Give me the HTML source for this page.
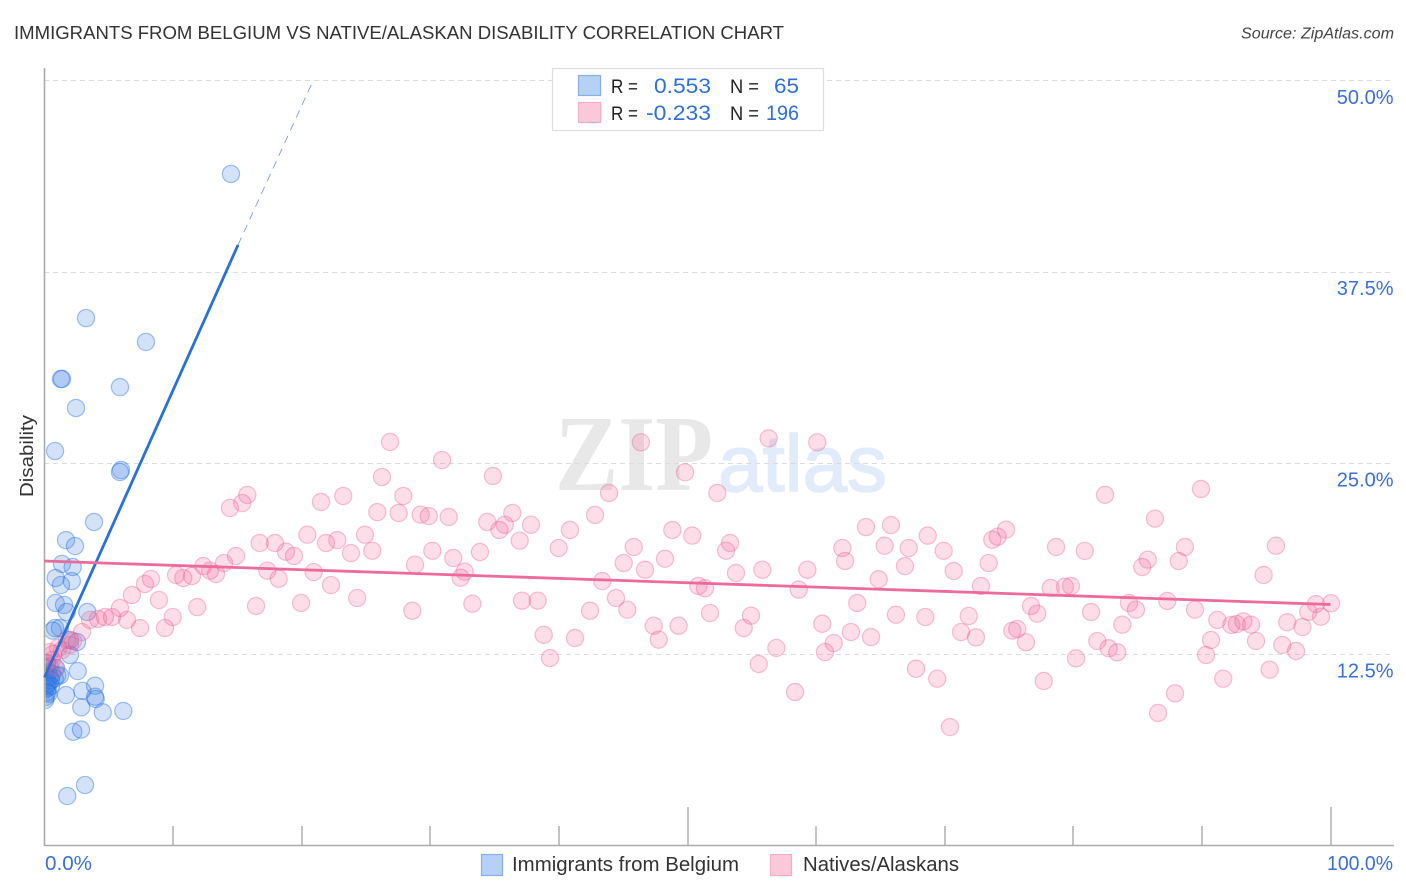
<!DOCTYPE html>
<html>
<head>
<meta charset="utf-8">
<title>Immigrants from Belgium vs Native/Alaskan Disability Correlation Chart</title>
<style>
html,body{margin:0;padding:0;background:#fff;}
svg{display:block;font-family:"Liberation Sans",sans-serif;}
</style>
</head>
<body>
<svg id="chart" width="1406" height="892" viewBox="0 0 1406 892" xmlns="http://www.w3.org/2000/svg">
  <defs>
    <clipPath id="plot-clip"><rect x="45.5" y="60" width="1360" height="785"/></clipPath>
  </defs>
  <rect x="0" y="0" width="1406" height="892" fill="#ffffff"/>
  <text x="14" y="39" font-size="18.5" fill="#333333" textLength="770" lengthAdjust="spacingAndGlyphs">IMMIGRANTS FROM BELGIUM VS NATIVE/ALASKAN DISABILITY CORRELATION CHART</text>
  <text x="1241" y="38.5" font-size="15.5" font-style="italic" fill="#444444" textLength="153" lengthAdjust="spacingAndGlyphs">Source: ZipAtlas.com</text>
  <g>
    <text x="555" y="490" font-family="'Liberation Serif',serif" font-size="108" font-weight="bold" fill="#e8e8e8" textLength="158" lengthAdjust="spacingAndGlyphs">ZIP</text>
    <text x="718" y="491" font-size="80" fill="#e2ebf9" stroke="#e2ebf9" stroke-width="1.6">atlas</text>
  </g>
  <g id="grid"></g>
  <g id="axes"></g>
  <g id="blue-points" clip-path="url(#plot-clip)"></g>
  <g id="pink-points" clip-path="url(#plot-clip)"></g>
  <g id="trends"></g>
  <text transform="translate(33,456) rotate(-90)" font-size="18.5" fill="#333333" text-anchor="middle" textLength="82" lengthAdjust="spacingAndGlyphs">Disability</text>
  <g>
    <rect x="552.5" y="68.5" width="271" height="62" fill="#ffffff" stroke="#dddddd" stroke-width="1.2"/>
    <rect x="578.5" y="75.5" width="22" height="20" fill="#b5d2f6" stroke="#86b0e8" stroke-width="1.2"/>
    <rect x="578.5" y="102.5" width="22" height="20" fill="#fcc8d9" stroke="#f3adc5" stroke-width="1.2"/>
    <text x="611" y="93" font-size="19.5" fill="#222222" textLength="27" lengthAdjust="spacingAndGlyphs">R =</text>
    <text x="654" y="93" font-size="21" fill="#2f6fd6" textLength="57" lengthAdjust="spacingAndGlyphs">0.553</text>
    <text x="730" y="93" font-size="19.5" fill="#222222" textLength="29" lengthAdjust="spacingAndGlyphs">N =</text>
    <text x="774" y="93" font-size="21" fill="#2f6fd6" textLength="25" lengthAdjust="spacingAndGlyphs">65</text>
    <text x="611" y="120" font-size="19.5" fill="#222222" textLength="27" lengthAdjust="spacingAndGlyphs">R =</text>
    <text x="646" y="120" font-size="21" fill="#2f6fd6" textLength="65" lengthAdjust="spacingAndGlyphs">-0.233</text>
    <text x="730" y="120" font-size="19.5" fill="#222222" textLength="29" lengthAdjust="spacingAndGlyphs">N =</text>
    <text x="766" y="120" font-size="21" fill="#2f6fd6" textLength="33" lengthAdjust="spacingAndGlyphs">196</text>
  </g>
  <g>
    <rect x="481.5" y="854.5" width="21" height="21" fill="#b5d2f6" stroke="#86b0e8" stroke-width="1.2"/>
    <text x="512" y="871" font-size="20" fill="#333333" textLength="227" lengthAdjust="spacingAndGlyphs">Immigrants from Belgium</text>
    <rect x="770.5" y="854.5" width="21" height="21" fill="#fcc8d9" stroke="#f3adc5" stroke-width="1.2"/>
    <text x="803" y="871" font-size="20" fill="#333333" textLength="156" lengthAdjust="spacingAndGlyphs">Natives/Alaskans</text>
  </g>
</svg>
<script>
// Chart data, in axis units (percent)
var xTickValues = [10, 20, 30, 40, 50, 60, 70, 80, 90, 100];
var yTickValues = [12.5, 25, 37.5, 50];
var yTickLabels = ["12.5%", "25.0%", "37.5%", "50.0%"];
var xEndLabels = ["0.0%", "100.0%"];

var blueX = [14.50,3.23,7.89,1.28,1.36,5.87,2.45,0.82,5.95,5.87,3.85,1.67,2.37,1.36,2.19,0.87,2.12,1.28,0.87,1.52,1.73,3.33,0.82,1.20,0.64,1.98,2.53,1.98,2.58,3.93,2.94,1.67,3.93,3.98,2.86,4.53,6.13,2.24,2.84,1.77,3.15,0.20,0.40,0.10,0.90,0.30,0.60,1.00,0.10,0.20,0.40,0.80,1.20,0.05,0.30,0.50,0.10,0.25,0.05,0.20,0.50,0.30,0.10,0.20,0.05];
var blueY = [43.88,34.46,32.90,30.48,30.48,29.95,28.58,25.77,24.53,24.40,21.13,19.95,19.56,18.39,18.19,17.47,17.27,17.01,15.84,15.71,15.25,15.25,14.20,14.20,14.03,13.42,13.29,12.44,11.39,10.43,10.10,9.82,9.71,9.56,9.02,8.69,8.78,7.42,7.56,3.22,3.94,11.90,11.70,11.60,11.60,11.30,11.20,11.10,11.10,10.90,11.00,10.90,11.10,10.70,10.60,10.80,10.40,10.30,10.20,10.50,10.40,9.90,9.70,10.00,9.50];

var pinkX = [2.92,2.22,1.75,1.98,1.36,1.05,0.66,0.43,0.58,0.19,0.82,3.54,4.16,4.70,5.25,5.87,6.42,7.43,6.80,7.81,8.28,8.90,9.37,9.97,11.88,10.23,10.79,11.47,12.35,12.87,13.34,13.96,14.89,15.77,15.38,14.42,23.23,21.50,27.90,25.88,27.54,29.25,29.88,31.43,34.43,36.38,35.79,35.37,37.83,36.95,20.44,24.92,22.77,21.89,17.92,16.73,18.78,19.40,23.83,25.49,30.16,31.79,33.86,28.81,17.33,18.21,20.93,32.67,32.36,22.28,24.32,16.45,19.95,28.60,33.27,37.13,38.35,43.90,52.32,42.81,40.86,39.98,48.82,50.37,53.31,53.00,45.82,45.04,46.70,48.25,53.77,55.82,59.32,63.88,65.82,62.04,62.25,65.33,67.20,66.91,68.68,64.87,43.37,50.84,51.36,58.65,63.20,44.44,45.32,42.42,51.75,54.94,54.37,47.37,49.31,47.76,38.82,41.25,39.31,56.91,55.54,60.48,62.71,61.37,60.69,64.27,66.21,68.49,67.77,58.36,69.42,82.47,89.93,86.35,69.92,70.70,74.77,74.12,73.70,73.42,72.82,78.66,80.89,88.68,88.20,85.79,85.36,95.76,94.80,78.24,79.35,79.82,84.33,84.87,87.31,89.46,100.04,98.87,98.27,99.26,76.71,77.20,81.38,83.81,91.20,92.29,92.71,93.22,93.82,96.64,97.82,71.87,71.27,72.43,75.64,75.26,76.32,81.87,82.75,83.42,80.21,94.21,90.71,90.32,96.25,97.32,95.27,91.66,87.91,77.70,86.59,70.41,26.87,30.91,34.87,26.24,46.38,56.31,60.09,49.81];
var pinkY = [13.94,13.35,13.42,13.09,12.76,12.90,12.50,12.63,12.11,11.91,11.59,14.73,14.79,14.92,14.92,15.51,14.73,14.20,16.36,17.08,17.41,16.03,14.20,14.92,15.57,17.67,17.47,17.60,18.25,17.95,17.73,18.45,18.91,22.90,22.37,22.05,22.83,22.44,22.83,21.78,21.72,21.61,21.52,21.46,21.13,21.72,20.95,20.61,20.95,19.91,20.30,20.30,19.95,19.76,19.76,19.76,19.19,18.91,19.10,19.25,19.25,18.78,19.17,18.34,17.95,17.42,17.86,17.88,17.49,17.01,16.16,15.64,15.84,15.33,15.79,15.99,15.99,23.03,23.03,21.59,20.61,19.43,20.61,20.24,19.76,19.25,19.50,18.45,18.01,18.73,17.80,18.01,18.01,20.80,20.93,19.43,18.58,19.58,19.43,18.25,20.24,17.39,17.27,16.95,16.80,16.71,15.84,16.16,15.40,15.33,15.18,15.01,14.20,14.35,14.35,13.44,13.76,13.55,12.24,12.90,11.85,14.48,13.94,13.22,12.63,13.61,15.07,14.92,11.54,10.02,10.89,22.91,23.29,21.35,19.25,17.93,20.63,20.17,19.97,18.45,16.95,19.50,19.24,19.50,18.58,18.67,18.19,19.58,17.67,16.82,16.90,16.95,15.84,15.40,15.97,15.40,15.82,15.77,15.27,14.94,15.64,15.14,15.25,14.42,14.73,14.40,14.46,14.64,14.42,14.58,14.27,14.99,13.94,13.59,14.14,14.03,13.27,13.35,12.88,12.61,12.22,13.35,13.42,12.44,13.09,12.70,11.48,10.89,9.93,10.74,8.65,7.73,26.36,25.18,24.14,24.07,26.34,26.60,26.34,24.38];

var blueTrendSolidX = [0, 15.05];
var blueTrendSolidY = [10.97, 39.24];
var blueTrendDashX = [15.05, 20.9];
var blueTrendDashY = [39.24, 50];
var pinkTrendX = [0, 100];
var pinkTrendY = [18.58, 15.74];

function xScale(v) { return 44.5 + v * 12.86; }
function yScale(v) { return 845.3 - v * 15.3; }

var NS = "http://www.w3.org/2000/svg";
function mk(tag, attrs, parent, text) {
  var el = document.createElementNS(NS, tag);
  for (var k in attrs) { el.setAttribute(k, attrs[k]); }
  if (text !== undefined) { el.textContent = text; }
  parent.appendChild(el);
  return el;
}

var gridG = document.getElementById("grid");
var axesG = document.getElementById("axes");
var blueG = document.getElementById("blue-points");
var pinkG = document.getElementById("pink-points");
var trendG = document.getElementById("trends");

yTickValues.forEach(function (v, i) {
  var y = Math.round(yScale(v)) + 0.5;
  var line = mk("line", {x1: 44, x2: 1394, y1: y, y2: y, stroke: "#dcdcdc", "stroke-width": 1, "stroke-dasharray": "5 4"}, gridG);
  
  
  var label = mk("text", {x: 1393.5, y: yScale(v) + 23.5, "font-size": 20, fill: "#3b6fd6", "text-anchor": "end"}, axesG, yTickLabels[i]);
  
  
});

var yAxis = mk("line", {x1: 44.5, x2: 44.5, y1: 68, y2: 846, stroke: "#aaaaaa", "stroke-width": 1.6}, axesG);


var xAxis = mk("line", {x1: 44, x2: 1394, y1: 845.5, y2: 845.5, stroke: "#aaaaaa", "stroke-width": 1.6}, axesG);



xTickValues.forEach(function (v) {
  var x = Math.round(xScale(v));
  var top = (v % 50 === 0) ? 807 : 826;
  var tick = mk("line", {x1: x, x2: x, y1: top, y2: 845, stroke: "#aaaaaa", "stroke-width": 1.4}, axesG);
  
  
});

var x0Label = mk("text", {x: 45, y: 870, "font-size": 20, fill: "#3b6fd6", textLength: 47, lengthAdjust: "spacingAndGlyphs"}, axesG, xEndLabels[0]);


var x1Label = mk("text", {x: 1327, y: 870, "font-size": 20, fill: "#3b6fd6", textLength: 66, lengthAdjust: "spacingAndGlyphs"}, axesG, xEndLabels[1]);



blueX.forEach(function (v, i) {
  var c = mk("circle", {cx: xScale(v), cy: yScale(blueY[i]), r: 8.6, fill: "rgba(64,130,230,0.23)", stroke: "rgba(30,110,220,0.42)", "stroke-width": 1.2}, blueG);
  
  
});

pinkX.forEach(function (v, i) {
  var c = mk("circle", {cx: xScale(v), cy: yScale(pinkY[i]), r: 8.6, fill: "rgba(240,100,150,0.22)", stroke: "rgba(232,90,140,0.36)", "stroke-width": 1.2}, pinkG);
  
  
});

var blueSolid = mk("line", {x1: xScale(blueTrendSolidX[0]), y1: yScale(blueTrendSolidY[0]), x2: xScale(blueTrendSolidX[1]), y2: yScale(blueTrendSolidY[1]), stroke: "#2a70d8", "stroke-width": 2.8}, trendG);


var blueDash = mk("line", {x1: xScale(blueTrendDashX[0]), y1: yScale(blueTrendDashY[0]), x2: xScale(blueTrendDashX[1]), y2: yScale(blueTrendDashY[1]), stroke: "#7f9cdc", "stroke-width": 0.9, "stroke-dasharray": "8 6"}, trendG);


var pinkLine = mk("line", {x1: xScale(pinkTrendX[0]), y1: yScale(pinkTrendY[0]), x2: xScale(pinkTrendX[1]), y2: yScale(pinkTrendY[1]), stroke: "#ec6a9c", "stroke-width": 2.8}, trendG);


</script>
</body>
</html>
